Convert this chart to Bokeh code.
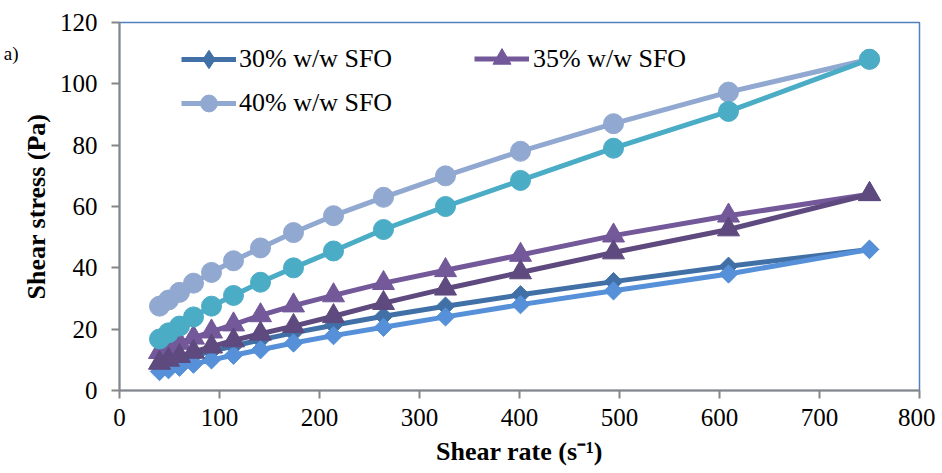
import math
from bokeh.plotting import figure
from bokeh.models import Legend, LegendItem, LinearAxis, FixedTicker
from bokeh.embed import file_html
from bokeh.resources import INLINE

# ---- data ----
shear_rate = [40, 49, 60, 74, 92, 114, 141, 174, 214, 264, 326, 401, 494, 609, 750]

stress_30_up = [8.0, 9.0, 10.0, 11.3, 12.8, 14.5, 16.5, 18.8, 21.3, 24.2, 27.5, 31.2, 35.5, 40.5, 46.0]
stress_30_down = [6.2, 6.8, 7.6, 8.6, 10.0, 11.5, 13.3, 15.5, 17.9, 20.6, 24.0, 28.0, 32.5, 38.0, 46.0]
stress_35_up = [12.5, 14.0, 15.5, 17.2, 19.2, 21.5, 24.5, 27.7, 31.0, 35.0, 39.2, 44.2, 50.5, 57.0, 64.0]
stress_35_down = [9.0, 10.0, 11.2, 12.6, 14.3, 16.3, 18.5, 21.0, 24.2, 28.5, 33.2, 38.5, 45.0, 52.5, 64.0]
stress_40_up = [27.5, 29.5, 32.0, 35.0, 38.5, 42.3, 46.5, 51.5, 57.0, 63.0, 70.0, 78.0, 87.0, 97.3, 108.0]
stress_40_down = [16.8, 18.8, 21.0, 24.0, 27.5, 31.0, 35.3, 40.0, 45.5, 52.5, 60.0, 68.5, 79.0, 91.0, 108.0]

x_ticks = [0, 100, 200, 300, 400, 500, 600, 700, 800]
y_ticks = [0, 20, 40, 60, 80, 100, 120]

legend_labels = ["30% w/w SFO", "35% w/w SFO", "40% w/w SFO"]
panel_tag = "a)"
panel_tag_at = 110

# ---- figure ----
p = figure(width=935, height=472, x_range=(0, 800), y_range=(0, 120),
           output_backend="svg", toolbar_location=None,
           min_border_left=118, min_border_right=16,
           min_border_top=22, min_border_bottom=82)
p.xgrid.visible = False
p.ygrid.visible = False
p.background_fill_color = "white"
p.border_fill_color = "white"
p.outline_line_color = "#4F81BD"
p.outline_line_width = 1.5

for ax in (p.xaxis[0], p.yaxis[0]):
    ax.axis_line_color = "#868686"
    ax.axis_line_width = 2
    ax.major_tick_line_color = "#868686"
    ax.major_tick_line_width = 2
    ax.major_tick_out = 8
    ax.major_tick_in = 0
    ax.minor_tick_line_color = None
    ax.major_label_text_font = "Liberation Serif"
    ax.major_label_text_font_size = "25px"
    ax.major_label_text_color = "black"
    ax.axis_label_text_font = "Liberation Serif"
    ax.axis_label_text_font_size = "26px"
    ax.axis_label_text_font_style = "bold"
    ax.axis_label_text_color = "black"

p.xaxis.ticker = FixedTicker(ticks=x_ticks)
p.yaxis.ticker = FixedTicker(ticks=y_ticks)
p.xaxis.major_label_standoff = 10
p.yaxis.major_label_standoff = 14
p.xaxis.axis_label = "Shear rate (s\u207b\u00b9)"
p.yaxis.axis_label = "Shear stress (Pa)"
p.xaxis.axis_label_standoff = 8
p.yaxis.axis_label_standoff = 6

# panel tag "a)" as a bare outer left axis label
tag_axis = LinearAxis(ticker=FixedTicker(ticks=[panel_tag_at]),
                      major_label_overrides={panel_tag_at: panel_tag},
                      axis_line_color=None, major_tick_line_color=None,
                      minor_tick_line_color=None,
                      major_tick_out=0, major_tick_in=0,
                      minor_tick_out=0, minor_tick_in=0,
                      major_label_standoff=0, axis_label_standoff=0,
                      major_label_text_font="Liberation Serif",
                      major_label_text_font_size="19px",
                      major_label_text_color="black")
p.add_layout(tag_axis, "left")

# ---- series ----
styles = [
    (stress_30_up, "#4170A7", "square", math.pi / 4, 13),
    (stress_30_down, "#5590D8", "square", math.pi / 4, 13),
    (stress_35_up, "#73589A", "triangle", 0, 22),
    (stress_35_down, "#5E4A7E", "triangle", 0, 22),
    (stress_40_up, "#91A8D0", "circle", 0, 20),
    (stress_40_down, "#4BACC6", "circle", 0, 20),
]
renderers = []
for ys, color, marker, ang, sz in styles:
    ln = p.line(shear_rate, ys, line_color=color, line_width=5)
    sc = p.scatter(shear_rate, ys, marker=marker, angle=ang, size=sz,
                   fill_color=color, line_color=color, line_width=1)
    renderers.append((ln, sc))

# legend key for 30% series: Excel legend shows a narrow diamond (not drawn in plot)
key_30 = p.scatter(shear_rate, stress_30_up, marker="diamond", size=19,
                   fill_color=styles[0][1], line_color=styles[0][1], visible=False)

def make_legend(label, rends, loc, gh, standoff):
    lg = Legend(items=[LegendItem(label=label, renderers=list(rends))],
                location=loc, padding=0, margin=0, spacing=0,
                border_line_color=None, background_fill_alpha=0,
                glyph_width=55, glyph_height=gh, label_height=20,
                label_standoff=standoff, label_text_font="Liberation Serif",
                label_text_font_size="26px", label_text_color="black")
    p.add_layout(lg, "center")

make_legend(legend_labels[0], [renderers[0][0], key_30], (62, 308), 46, 3)
make_legend(legend_labels[1], renderers[2], (355, 309), 45, 4)
make_legend(legend_labels[2], renderers[4], (62, 266), 42, 3)

open("out.html", "w").write(file_html(p, INLINE))
